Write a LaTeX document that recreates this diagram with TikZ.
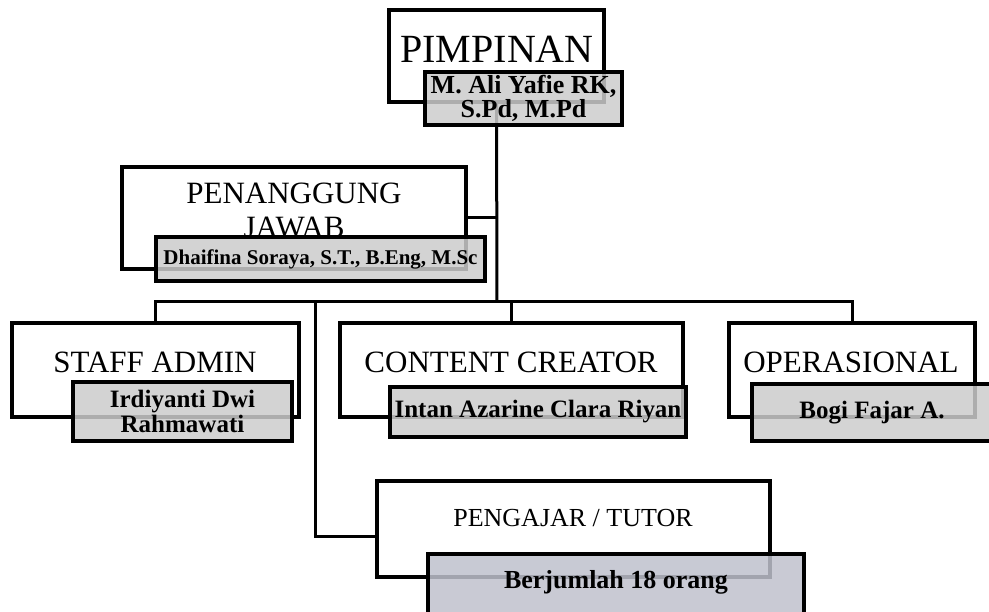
\documentclass[tikz,border=0pt]{standalone}
\usepackage{fontspec}
\setmainfont{Liberation Serif}
\usetikzlibrary{positioning}
\definecolor{namegray}{RGB}{204,204,204}
\definecolor{tutorgray}{RGB}{191,193,205}
\tikzstyle{link} = [line width=3pt]

\begin{document}
\begin{tikzpicture}
	[x=1pt, y=-1pt,
	unitbox/.style={draw, line width=3.5pt, fill=white, inner sep=0pt},
	unittitle/.style={anchor=base, align=center, inner sep=0pt, font=\fontsize{31}{34}\selectfont},
	namebox/.style={draw, line width=3.5pt, fill=namegray, fill opacity=0.85, text opacity=1,
		inner sep=0pt, align=center, font=\bfseries\fontsize{25}{25}\selectfont}]
	\useasboundingbox (0,0) rectangle (989,612);

	% boxes of the units
	\node[unitbox, minimum width=215, minimum height=92] (pimpinan) at (496.5,56) {};
	\node[unitbox, minimum width=344, minimum height=102] (penanggung) at (294,218) {};
	\node[unitbox, minimum width=287, minimum height=94] (staff) at (155.5,370) {};
	\node[unitbox, minimum width=343, minimum height=94] (content) at (511.5,370) {};
	\node[unitbox, minimum width=246, minimum height=94] (operasional) at (852,370) {};
	\node[unitbox, minimum width=393, minimum height=96] (tutor) at (573.5,529) {};

	% lines
	\coordinate (bus) at (497,302);
	\coordinate (busT) at (315,302);
	\draw[link] (pimpinan.south) -- (bus);
	\draw[link] (penanggung.east) -- (penanggung.east -| bus);
	\draw[link] (staff.north) -- (staff.north |- bus) -- (operasional.north |- bus) -- (operasional.north);
	\draw[link] (content.north) -- (content.north |- bus);
	\draw[link] (busT) |- ([yshift=-7pt]tutor.west);

	% titles
	\node[unittitle, font=\fontsize{40}{44}\selectfont] (pimpinanT) at (497,63) {PIMPINAN};
	\node[unittitle] (penanggungT) at (294,238) {PENANGGUNG\\JAWAB};
	\node[unittitle] (staffT) at (155,373) {STAFF ADMIN};
	\node[unittitle] (contentT) at (511,373) {CONTENT CREATOR};
	\node[unittitle] (operasionalT) at (851,373) {OPERASIONAL};
	\node[unittitle, font=\fontsize{26}{28}\selectfont] (tutorT) at (573,526) {PENGAJAR / TUTOR};

	% names
	\node[namebox, minimum width=197, minimum height=53, font=\bfseries\fontsize{26}{24}\selectfont] (pimpinanN) at (523.5,98.5) {M. Ali Yafie RK,\\S.Pd, M.Pd};
	\node[namebox, minimum width=329, minimum height=44, font=\bfseries\fontsize{21}{23}\selectfont] (penanggungN) at (320.5,259) {Dhaifina Soraya, S.T., B.Eng, M.Sc};
	\node[namebox, minimum width=219, minimum height=59] (staffN) at (182.5,411.5) {Irdiyanti Dwi\\Rahmawati};
	\node[namebox, minimum width=296, minimum height=50] (contentN) at (538,412) {Intan Azarine Clara Riyan};
	\node[namebox, minimum width=240, minimum height=57] (operasionalN) at (872,412.5) {Bogi Fajar A.};
	\node[namebox, fill=tutorgray, minimum width=376, minimum height=70, text depth=20pt, font=\bfseries\fontsize{26}{26}\selectfont] (tutorN) at (616,589) {Berjumlah 18 orang};
\end{tikzpicture}
\end{document}
